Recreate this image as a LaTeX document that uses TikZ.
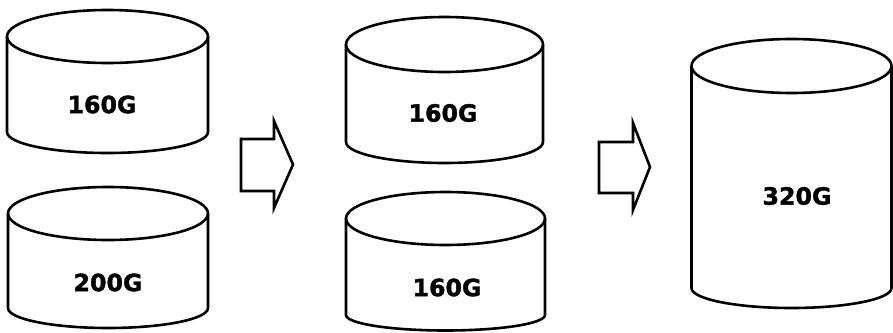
\documentclass[tikz,border=0pt]{standalone}
\usepackage{fontspec}
\newfontfamily\diskfont[FakeBold=1.6]{DejaVu Sans Bold}

\tikzset{
    disk line/.style = {draw, line width=2.6pt, line join=round},
    size/.style = {font=\diskfont\fontsize{23.7}{28}\selectfont},
    blockarrow/.style = {draw, line width=2.6pt, line join=miter},
    % disk: width, side length, top radius, bottom radius
    pics/disk/.style n args = {4}{code = {
        \coordinate (-top) at (0,0);
        \draw[disk line] (0,0) ellipse[x radius=#1/2, y radius=#3];
        \draw[disk line] (-#1/2,0) -- (-#1/2,-#2)
            arc[start angle=180, end angle=360, x radius=#1/2, y radius=#4]
            -- (#1/2,0);
    }}
}

\begin{document}
\begin{tikzpicture}[x=1pt, y=1pt]

\useasboundingbox (0,0) rectangle (893,-332);

% Disks
\pic (d1) at (107.5,-36.5) {disk={201}{95.5}{26.5}{21}};
\pic (d2) at (108,-213.5) {disk={200}{94.5}{26.5}{20}};
\pic (d3) at (444.5,-44.5) {disk={197}{97.5}{27.5}{21}};
\pic (d4) at (445.5,-218.5) {disk={199}{96.5}{26.5}{15.5}};
\pic (d5) at (791.5,-66) {disk={200}{222}{27}{20}};

% Sizes
\node[size] (s1) at (102,-104.5) {160G};
\node[size] (s2) at (108,-282.5) {200G};
\node[size] (s3) at (443,-113) {160G};
\node[size] (s4) at (447,-287.5) {160G};
\node[size] (s5) at (797,-196) {320G};

% Arrows
\draw[blockarrow] (241,-139) -- (274,-139) -- (274,-121) -- (293,-164.5)
    -- (274,-208) -- (274,-191) -- (241,-191) -- cycle;
\draw[blockarrow] (599,-142) -- (633,-142) -- (633,-123) -- (650,-167)
    -- (633,-210) -- (633,-193) -- (599,-193) -- cycle;

\end{tikzpicture}
\end{document}
